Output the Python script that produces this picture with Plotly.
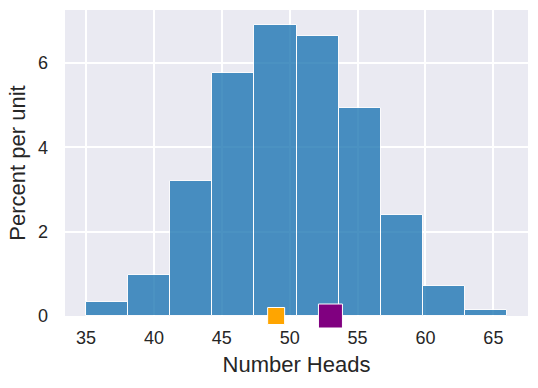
import plotly.graph_objects as go

bin_edges = [35, 38.1, 41.2, 44.3, 47.4, 50.5, 53.6, 56.7, 59.8, 62.9, 66]
percent_per_unit = [0.343, 0.98, 3.2, 5.76, 6.90, 6.64, 4.93, 2.40, 0.705, 0.154]
marker_x = [49, 53]
marker_colors = ["orange", "purple"]
marker_sizes = [17, 24]
x_ticks = [35, 40, 45, 50, 55, 60, 65]
y_ticks = [0, 2, 4, 6]

centers = [(a + b) / 2 for a, b in zip(bin_edges[:-1], bin_edges[1:])]
widths = [b - a for a, b in zip(bin_edges[:-1], bin_edges[1:])]

fig = go.Figure()
fig.add_trace(go.Bar(
    x=centers, y=percent_per_unit, width=widths,
    marker=dict(color="#1f77b4", opacity=0.8, line=dict(color="white", width=1)),
    showlegend=False, hoverinfo="skip",
))
for xv, c, s in zip(marker_x, marker_colors, marker_sizes):
    fig.add_trace(go.Scatter(
        x=[xv], y=[0], mode="markers",
        marker=dict(symbol="square", color=c, size=s, line=dict(color="white", width=1)),
        cliponaxis=False, showlegend=False,
    ))

font = dict(family="Liberation Sans, Arial, sans-serif", color="#262626")
fig.update_layout(
    width=538, height=388,
    margin=dict(l=65, r=10, t=10, b=72),
    paper_bgcolor="white", plot_bgcolor="#EAEAF2",
    font=font, bargap=0,
    xaxis=dict(
        range=[33.45, 67.55], tickvals=x_ticks, showgrid=True, gridcolor="white", gridwidth=1.5,
        zeroline=False, showline=False, ticks="", tickfont=dict(size=18), ticklabelstandoff=9,
        automargin=False,
        title=dict(text="Number Heads", font=dict(size=22), standoff=9),
    ),
    yaxis=dict(
        range=[0, 7.26], tickvals=y_ticks, showgrid=True, gridcolor="white", gridwidth=1.5,
        zeroline=False, showline=False, ticks="", tickfont=dict(size=18), ticklabelstandoff=16,
        automargin=False,
        title=dict(text="Percent per unit", font=dict(size=22), standoff=6),
    ),
)
fig.write_html("out.html", post_script="document.body.style.margin='0';",
               config={"displayModeBar": False})
